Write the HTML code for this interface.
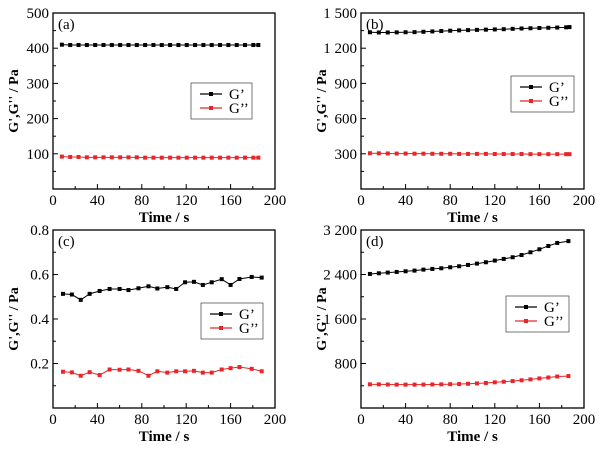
<!DOCTYPE html>
<html><head><meta charset="utf-8"><style>
body{margin:0;background:#fff;}
svg{display:block;font-family:"Liberation Serif",serif;}
</style></head><body>
<svg id="fig" width="603" height="451" viewBox="0 0 603 451" xmlns="http://www.w3.org/2000/svg"></svg>
<script>
const aX=[8,15.5,23,30.5,38,45.5,53,60.5,68,75.5,83,90.5,98,105.5,113,120.5,128,135.5,143,150.5,158,165.5,173,180.5,185];
const aG1=[410,409,409,409,409,409,409,409,409,409,409,409,409,409,409,409,409,409,409,409,409,409,409,409,409];
const aG2=[92,91,91,90,90,90,90,90,90,90,89,89,89,89,89,89,89,89,89,89,89,89,89,89,89];
const bX=[8,16,24,32,40,48,56,64,72,80,88,96,104,112,120,128,136,144,152,160,168,176,184,187];
const bG1=[1336,1334,1334,1335,1336,1337,1340,1343,1346,1349,1352,1354,1356,1358,1360,1362,1365,1368,1370,1372,1374,1376,1378,1380];
const bG2=[305,304,303,302,302,301,301,300,300,300,299,299,299,299,298,298,298,298,297,297,297,297,297,297];
const cX=[9,17,25,33,42,51,60,68,77,86,94,103,111,119,127,135,143,152,160,168,179,188];
const cG1=[0.513,0.51,0.486,0.513,0.526,0.535,0.535,0.53,0.538,0.547,0.537,0.543,0.535,0.565,0.567,0.553,0.565,0.579,0.553,0.58,0.589,0.586];
const cG2=[0.163,0.16,0.145,0.161,0.148,0.173,0.172,0.173,0.167,0.145,0.165,0.159,0.165,0.165,0.167,0.159,0.159,0.173,0.179,0.184,0.176,0.165];
const dX=[8,16,24,32,40,48,56,64,72,80,88,96,104,112,120,128,136,144,152,160,168,176,186];
const dG1=[2410,2422,2434,2446,2458,2470,2488,2500,2512,2530,2548,2572,2596,2620,2650,2680,2710,2750,2800,2853,2913,2967,3000];
const dG2=[425,425,422,420,420,420,421,423,425,428,431,436,442,450,462,472,484,498,514,532,548,566,574];
const xTicks=[0,40,80,120,160,200];
const aTicks=[0,100,200,300,400,500], aLabels=["","100","200","300","400","500"];
const bTicks=[0,300,600,900,1200,1500], bLabels=["","300","600","900","1 200","1 500"];
const cTicks=[0,0.2,0.4,0.6,0.8], cLabels=["","0.2","0.4","0.6","0.8"];
const dTicks=[0,800,1600,2400,3200], dLabels=["","800","1 600","2 400","3 200"];

const NS="http://www.w3.org/2000/svg";
const svg=document.getElementById('fig');
function mk(tag,attrs,parent){const e=document.createElementNS(NS,tag);for(const k in attrs)e.setAttribute(k,attrs[k]);(parent||svg).appendChild(e);return e;}

function panel(id,box,ymax,yT,yL,xs,s1,s2,leg,tag){
  const g=mk('g',{});
  
  
  const [L,R,T,B]=box;
  const sx=v=>L+(v/200)*(R-L), sy=v=>B-(v/ymax)*(B-T);
  const fr=mk('rect',{x:L,y:T,width:R-L,height:B-T,fill:'none',stroke:'#000','stroke-width':1.3},g);
  
  
  for(let v=0;v<=200;v+=20){const x=sx(v);mk('line',{x1:x,x2:x,y1:B,y2:B-(v%40===0?5:3),stroke:'#000','stroke-width':1},g);}
  xTicks.forEach(v=>{const t=mk('text',{x:sx(v),y:B+16,'text-anchor':'middle','font-size':15},g);t.textContent=v;
    });
  const step=yT[1]-yT[0];
  for(let i=0;i<yT.length;i++){const y=sy(yT[i]);mk('line',{x1:L,x2:L+5,y1:y,y2:y,stroke:'#000','stroke-width':1},g);
    if(i<yT.length-1){const ym=sy(yT[i]+step/2);mk('line',{x1:L,x2:L+3,y1:ym,y2:ym,stroke:'#000','stroke-width':1},g);}
    if(yL[i]){const t=mk('text',{x:L-4,y:y+5,'text-anchor':'end','font-size':15},g);t.textContent=yL[i];
      }}
  const xt=mk('text',{x:(L+R)/2,y:B+33,'text-anchor':'middle','font-size':15,'font-weight':'bold'},g);xt.textContent='Time / s';
  
  const yx=L-35, yy=(T+B)/2;
  const yt=mk('text',{x:yx,y:yy,'text-anchor':'middle','font-size':14,'font-weight':'bold',transform:`rotate(-90 ${yx} ${yy})`},g);yt.textContent="G',G'' / Pa";
  
  const pl=mk('text',{x:L+5,y:T+16,'font-size':15},g);pl.textContent='('+tag+')';
  
  [[s1,'#000','g-prime'],[s2,'#e8262a','g-double-prime']].forEach(([s,c,n])=>{
    const pts=xs.map((x,i)=>sx(x)+','+sy(s[i])).join(' ');
    const ln=mk('polyline',{points:pts,fill:'none',stroke:c,'stroke-width':1},g);
    
    xs.forEach((x,i)=>{const m=mk('rect',{x:sx(x)-2,y:sy(s[i])-2,width:4,height:4,fill:c},g);
      });
  });
  const [lx,ly,lw,lh]=leg;
  const lg=mk('g',{},g);
  mk('rect',{x:lx,y:ly,width:lw,height:lh,fill:'#fff',stroke:'#555','stroke-width':0.8},lg);
  [["G’",'#000'],["G’’",'#e8262a']].forEach(([txt,c],i)=>{
    const y=ly+11+i*14;
    mk('line',{x1:lx+9,x2:lx+31,y1:y,y2:y,stroke:c,'stroke-width':1.2},lg);
    mk('rect',{x:lx+18,y:y-2,width:4,height:4,fill:c},lg);
    const t=mk('text',{x:lx+38,y:y+5,'font-size':15},lg);t.textContent=txt;
    
  });
}
panel('a',[53,275,13,189],500,aTicks,aLabels,aX,aG1,aG2,[191,83,61,36],'a');
panel('b',[361,584,13,189],1500,bTicks,bLabels,bX,bG1,bG2,[511,76,63,36],'b');
panel('c',[53,275,230,408],0.8,cTicks,cLabels,cX,cG1,cG2,[201,303,62,36],'c');
panel('d',[361,584,230,408],3200,dTicks,dLabels,dX,dG1,dG2,[506,296,63,36],'d');
</script>
</body></html>
